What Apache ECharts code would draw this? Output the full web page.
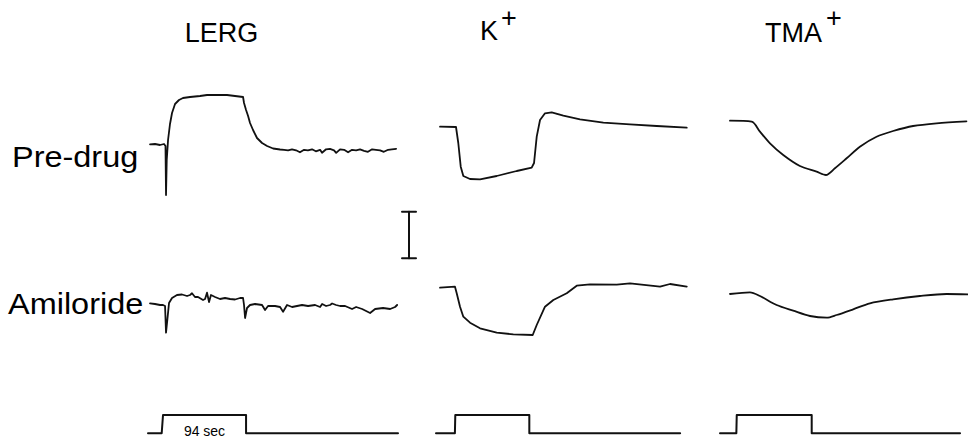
<!DOCTYPE html>
<html><head><meta charset="utf-8">
<script src="https://cdn.jsdelivr.net/npm/echarts@6/dist/echarts.min.js"></script>
<style>html,body{margin:0;padding:0;background:#fff}#c{width:968px;height:438px}</style>
</head><body><div id="c"></div>
<script>
// ---- labels ----
const columnTitles = ['LERG', 'K', 'TMA'];
const columnSup = ['', '+', '+'];
const rowLabels = ['Pre-drug', 'Amiloride'];
const stimLabel = '94 sec';

// ---- traces: [time (s), amplitude (arb. units, 1 scale bar = 46.6)] ----
const lergPre = [[2.3,0],[7.9,0.3],[13.6,-0.7],[18.1,0.3],[19.8,-1.7],[20.4,-50.7],[21.2,-15.7],[22.7,4.3],[24.9,20.3],[27.2,31.3],[30.6,40.3],[35.1,44.3],[39.6,46.3],[47.6,47.3],[58.9,48.3],[66.8,49.3],[78.1,49.3],[89.5,49.3],[98.5,48.3],[107.6,47.3],[108.7,41.3],[111,34.3],[113.3,28.3],[115.5,21.3],[118.9,14.3],[123.4,6.3],[129.1,1.3],[134.8,-1.7],[141.6,-4.2],[149.5,-5.2],[154,-5.5],[158.6,-6],[163,-5],[167.6,-6],[172,-8],[176.7,-5.5],[181,-6],[185.7,-5],[190,-7],[194.8,-5.5],[197,-8.5],[201.6,-5],[206,-4.5],[210.6,-6],[213,-8.5],[217.4,-5],[222,-5.5],[226.5,-8],[231,-5.5],[235.6,-6],[240,-5],[244.6,-6.5],[249,-7.5],[253.7,-5],[258,-5.5],[262.7,-6],[267,-7.5],[271.8,-5.5],[276,-5],[280.9,-4.5]];
const lergAmil = [[2.3,0],[7.9,-0.7],[13.6,-1.7],[17,-1.7],[19.3,-2.7],[20.4,-29.4],[22.1,-14.7],[23.8,0.3],[27.2,5.3],[32.8,8.3],[38.5,8.8],[44.2,7.3],[47.6,8.3],[49.8,10],[53.2,6.3],[56.6,6.3],[62.3,3.3],[64.6,4.3],[66.8,10.6],[69.1,1.3],[71.3,8.3],[75.9,6.3],[81.5,4.3],[87.2,5.3],[92.9,4.3],[98.5,3.8],[104.2,5.3],[107.6,5.3],[108.7,-1.7],[109.9,-14.7],[112.1,-4.7],[115.5,-1.7],[121.2,-0.7],[129.1,-1.7],[132.5,-6.7],[135.9,-2.7],[143.8,-2.7],[149.5,-3.7],[152.9,-8.4],[157.4,-1.7],[163.1,-3.7],[168.7,-2.7],[174.4,-1.7],[181.2,-2.7],[189.1,-1.7],[194.8,-3.7],[197.1,-0.7],[201.6,-2.7],[206.1,-1.7],[208.4,-0.2],[212.9,-1.7],[217.4,-2.7],[223.1,-2.7],[231,-5.7],[235.6,-3.7],[242.4,-5.7],[246.9,-7.7],[251.4,-9.7],[257.1,-5.7],[266.1,-4.7],[274.1,-5.7],[279.7,-3.7],[282,-1.7]];
const kPre = [[5.1,0],[25.4,-0.3],[28.3,-16.3],[31.4,-40],[34.7,-49.3],[43.2,-52.3],[55.9,-52.6],[77.1,-49.3],[102.5,-44.3],[121.5,-41],[124.5,-36.3],[127.9,-10],[132.1,6.7],[138.4,13.4],[146.9,14.4],[161.7,11],[182.9,7.4],[212.5,4],[246.4,2.4],[280.3,0.7],[318.4,-1]];
const kAmil = [[5.1,0],[24.1,1],[26.3,-5.6],[30.5,-19],[34.7,-29],[43.2,-35],[55.9,-40.6],[77.1,-45],[98.2,-46.6],[122.8,-47.3],[127.9,-37.3],[138.4,-19],[149,-12.3],[166,-5.6],[178.7,2],[195.6,3.4],[229.5,3],[246.4,4.4],[284.5,1],[297.2,3.7],[318.4,1]];
const tmaPre = [[12.5,0],[39.7,-1],[50.1,-11],[62.7,-22.6],[79.3,-34.3],[100.2,-45.3],[121.2,-51],[132.8,-54.3],[144.1,-47.6],[158.8,-37.6],[175.4,-26],[196.3,-16],[217.1,-10.3],[242.2,-5.3],[271.5,-2.6],[309.1,-0.6]];
const tmaAmil = [[12.5,0],[37.6,1.7],[50.1,-2],[71,-11],[91.8,-16.7],[112.8,-22],[133.7,-23.7],[146.2,-21],[167,-15.3],[188,-9.3],[217.1,-5.3],[250.6,-2],[284.1,0],[310.8,-0.3]];
// stimulus (0 = off, 1 = on)
const lergStim = [[0,0],[15.5,0],[17,1],[111,1],[111,0],[283,0]];
const kStim = [[0,0],[24,0],[24.5,1],[118.5,1],[118.5,0],[310,0]];
const tmaStim = [[0,0],[20.5,0],[21,1],[115,1],[115,0],[301,0]];
const scaleBar = 46.6;

// ---- layout ----
const font = '"Liberation Sans", Arial, Helvetica, sans-serif';
const cols = [{left:148,width:250,tmax:283},{left:436,width:252,tmax:320},{left:720,width:248,tmax:311}];
const baselines = [[144.3,126.7,120.7],[303.3,287.7,294]];
const traces = [[lergPre,kPre,tmaPre],[lergAmil,kAmil,tmaAmil]];
const smoothing = [false, false, 0.3];
const stims = [lergStim,kStim,tmaStim];

const grid = [], xAxis = [], yAxis = [], series = [];
function addGrid(g, xr, yr){
  const i = grid.length;
  grid.push(Object.assign({containLabel:false}, g));
  xAxis.push({type:'value', gridIndex:i, min:xr[0], max:xr[1], show:false});
  yAxis.push({type:'value', gridIndex:i, min:yr[0], max:yr[1], show:false});
  return i;
}
function addLine(i, data, w, smooth){
  series.push({type:'line', xAxisIndex:i, yAxisIndex:i, data:data, showSymbol:false, symbol:'none',
    smooth: smooth || false,
    lineStyle:{color:'#111', width:w, join:'round', cap:'round'}, animation:false, silent:true, clip:false});
}
for (let r=0;r<2;r++){
  for (let c=0;c<3;c++){
    const b = baselines[r][c];
    const i = addGrid({left:cols[c].left, width:cols[c].width, top:b-60, height:120}, [0, cols[c].tmax], [-60,60]);
    addLine(i, traces[r][c], 1.8, smoothing[c]);
  }
}
for (let c=0;c<3;c++){
  const i = addGrid({left:cols[c].left, width:cols[c].width, top:415, height:18.3}, [0, cols[c].tmax], [0,1]);
  addLine(i, stims[c], 2);
}
// scale bar
{
  const i = addGrid({left:402, width:14, top:211.7, height:scaleBar}, [-1,1], [0, scaleBar]);
  addLine(i, [[-1,0],[1,0]], 2);
  addLine(i, [[0,0],[0,scaleBar]], 2);
  addLine(i, [[-1,scaleBar],[1,scaleBar]], 2);
}

const graphic = [];
function txt(x, y, s, size, align, sx){
  graphic.push({type:'text', x:x, y:y, scaleX: sx || 1, originX: 0, silent:true,
    style:{text:s, font:size+'px '+font, fill:'#000', align:align||'left', verticalAlign:'middle'}});
}
txt(221.5, 33, columnTitles[0], 27, 'center');
txt(480, 31, columnTitles[1], 27, 'left');
txt(501, 18, columnSup[1], 27, 'left');
txt(765, 33, columnTitles[2], 27, 'left');
txt(826, 18, columnSup[2], 27, 'left');
txt(12, 157, rowLabels[0], 29, 'left', 1.12);
txt(8, 304, rowLabels[1], 29, 'left', 1.12);
txt(204.5, 431, stimLabel, 14, 'center');

const chart = echarts.init(document.getElementById('c'), null, {renderer:'svg'});
chart.setOption({backgroundColor:'#fff', animation:false, grid, xAxis, yAxis, series, graphic});
</script></body></html>
